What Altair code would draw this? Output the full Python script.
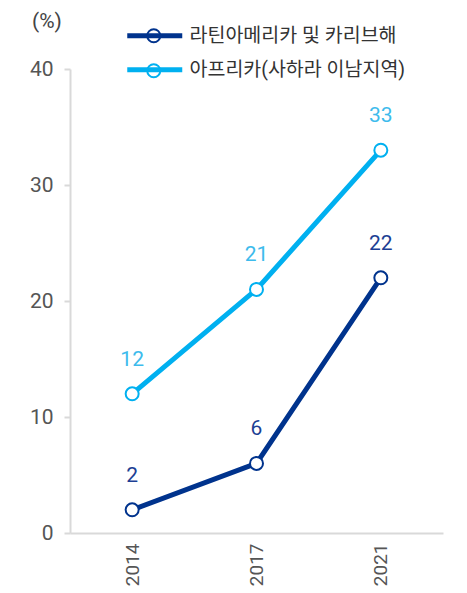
import altair as alt
import pandas as pd

years = ["2014", "2017", "2021"]
series_names = ["라틴아메리카 및 카리브해", "아프리카(사하라 이남지역)"]
latin = [2, 6, 22]
africa = [12, 21, 33]
line_colors = ["#00338D", "#00B0F0"]
label_colors = ["#1D3F94", "#3DBBEC"]

rows = []
for name, vals in zip(series_names, [latin, africa]):
    for y, v in zip(years, vals):
        rows.append({"year": y, "value": v, "series": name})
df = pd.DataFrame(rows)

FONT = "Roboto, 'Noto Sans CJK KR', sans-serif"

x = alt.X("year:N", scale=alt.Scale(type="point", padding=0.5),
          axis=alt.Axis(title=None, labelAngle=270, labelFontSize=19, labelColor="#555555",
                        labelPadding=10, ticks=False, domainColor="#D9D9D9", domainWidth=2,
                        labelAlign="right", labelBaseline="middle"))
y = alt.Y("value:Q", scale=alt.Scale(domain=[0, 40]),
          axis=alt.Axis(values=[0, 10, 20, 30, 40], title=None,
                        labelFontSize=21, labelColor="#555555", labelPadding=11, grid=False,
                        tickColor="#D9D9D9", tickSize=6, tickWidth=2,
                        domainColor="#D9D9D9", domainWidth=2))

color_scale = alt.Scale(domain=series_names, range=line_colors)

LEG_X = 75
LEG_Y = -43
LEG_FONT = 19.5

line = alt.Chart(df).mark_line(strokeWidth=5).encode(
    x=x, y=y,
    color=alt.Color("series:N", scale=color_scale,
                    legend=alt.Legend(title=None, orient="none", legendX=LEG_X, legendY=LEG_Y,
                                      symbolType="M-5,0L5,0", symbolSize=121, symbolStrokeWidth=5,
                                      labelFontSize=LEG_FONT, labelColor="#333333", labelFont=FONT,
                                      labelLimit=400, rowPadding=13, labelOffset=25, padding=0))
)

points = alt.Chart(df).mark_point(filled=False, fill="white", fillOpacity=1, strokeWidth=2,
                                   size=169, opacity=1).encode(
    x=x, y=y,
    stroke=alt.Stroke("series:N", scale=color_scale,
                      legend=alt.Legend(title=None, orient="none", legendX=LEG_X - 1, legendY=LEG_Y,
                                        symbolType="circle", symbolSize=169, symbolStrokeWidth=2,
                                        symbolFillColor="white", labelFontSize=LEG_FONT,
                                        labelExpr="''", labelFont=FONT,
                                        rowPadding=13, labelOffset=3, padding=0))
)

labels = alt.Chart(df).mark_text(fontSize=21, dy=-34, baseline="middle", font=FONT).encode(
    x=x, y=y, text="value:Q",
    color=alt.Color("series:N", scale=alt.Scale(domain=series_names, range=label_colors), legend=None)
)

chart = alt.layer(line, points, labels).resolve_scale(color="independent").properties(
    width=373, height=464,
    title=alt.TitleParams(text="(%)", anchor="start", frame="group", orient="top",
                          fontSize=21, fontWeight="normal", color="#444444", font=FONT,
                          dx=-38, dy=23, offset=0, baseline="alphabetic"),
    autosize=alt.AutoSizeParams(type="none"),
    padding={"left": 70, "top": 69, "right": 24, "bottom": 60},
    background="white",
).configure(font=FONT).configure_view(stroke=None)

chart.save("out.html", embed_options={"renderer": "svg", "actions": False})
